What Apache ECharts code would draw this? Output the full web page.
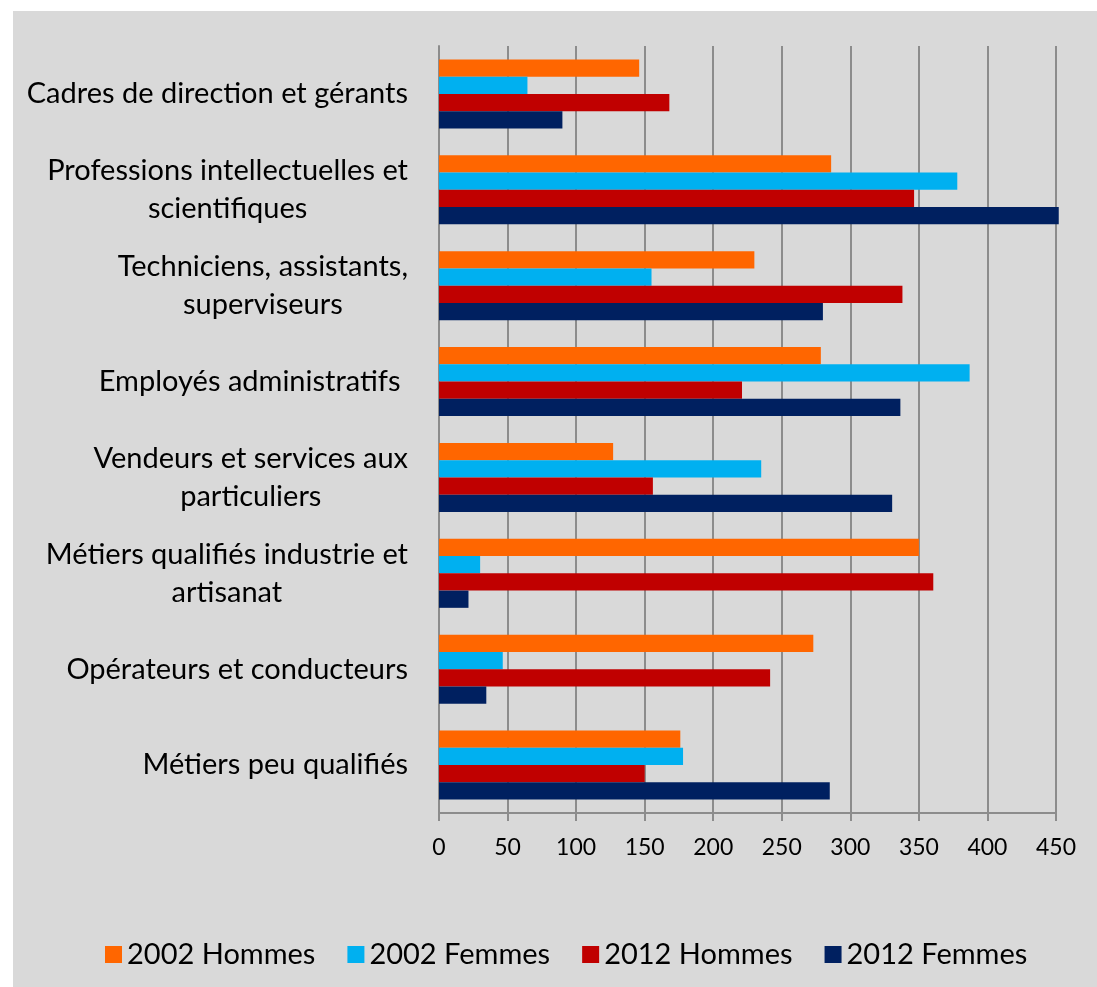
<!DOCTYPE html>
<html>
<head>
<meta charset="utf-8">
<script src="https://cdn.jsdelivr.net/npm/echarts@6/dist/echarts.min.js"></script>
<style>
  html, body { margin: 0; padding: 0; background: #fff; }
  #main { position: absolute; left: 13px; top: 11px; width: 1084px; height: 976px; }
</style>
</head>
<body>
<div id="main"></div>
<script>
// catégories professionnelles
const categories = [
  'Cadres de direction et gérants',
  'Professions intellectuelles et\nscientifiques',
  'Techniciens, assistants,\nsuperviseurs',
  'Employés administratifs ',
  'Vendeurs et services aux\nparticuliers',
  'Métiers qualifiés industrie et\nartisanat',
  'Opérateurs et conducteurs',
  'Métiers peu qualifiés'
]
const hommes2002 = [146, 286, 230, 278.5, 127, 350, 273, 176]
const femmes2002 = [64.5, 378, 155, 387, 235, 30, 46.5, 178]
const hommes2012 = [168, 346.5, 338, 221, 156, 360.5, 241.5, 150]
const femmes2012 = [90, 452, 280, 336.5, 330.5, 21.5, 34.5, 285]
const seriesNames = ['2002 Hommes', '2002 Femmes', '2012 Hommes', '2012 Femmes']
const colors = ['#ff6600', '#00b0f0', '#c00000', '#002060']

const font = 'Lato'
const myChart = echarts.init(document.getElementById('main'))

const bar = (name, data, i) => ({
  name: name,
  type: 'bar',
  data: data,
  clip: false,
  barGap: '0%',
  barCategoryGap: '28%',
  itemStyle: { color: colors[i] }
})

myChart.setOption({
  backgroundColor: '#d9d9d9',
  animation: false,
  grid: { left: 426, top: 35, right: 41, bottom: 174 },
  legend: {
    data: seriesNames,
    left: 87,
    top: 924,
    itemWidth: 17,
    itemHeight: 17,
    itemGap: 32,
    icon: 'rect',
    textStyle: { fontFamily: font, fontSize: 29, color: '#000' }
  },
  xAxis: {
    type: 'value',
    min: 0,
    max: 450,
    interval: 50,
    axisLine: { show: true, lineStyle: { color: '#8c8c8c', width: 2 } },
    axisTick: { show: true, length: 8, lineStyle: { color: '#8c8c8c', width: 2 } },
    splitLine: { show: true, lineStyle: { color: '#8c8c8c', width: 2 } },
    axisLabel: { margin: 23, fontFamily: font, fontSize: 23, color: '#000' }
  },
  yAxis: {
    type: 'category',
    data: categories,
    inverse: true,
    axisLine: { show: true, lineStyle: { color: '#8c8c8c', width: 2 } },
    axisTick: { show: false },
    axisLabel: {
      margin: 31,
      formatter: v => v.split('\n').map(s => '{c|' + s + '}').join('\n'),
      rich: {
        c: { align: 'center', fontFamily: font, fontSize: 29, lineHeight: 38, color: '#000' }
      }
    }
  },
  series: [
    bar(seriesNames[0], hommes2002, 0),
    bar(seriesNames[1], femmes2002, 1),
    bar(seriesNames[2], hommes2012, 2),
    bar(seriesNames[3], femmes2012, 3)
  ]
})
</script>
</body>
</html>
